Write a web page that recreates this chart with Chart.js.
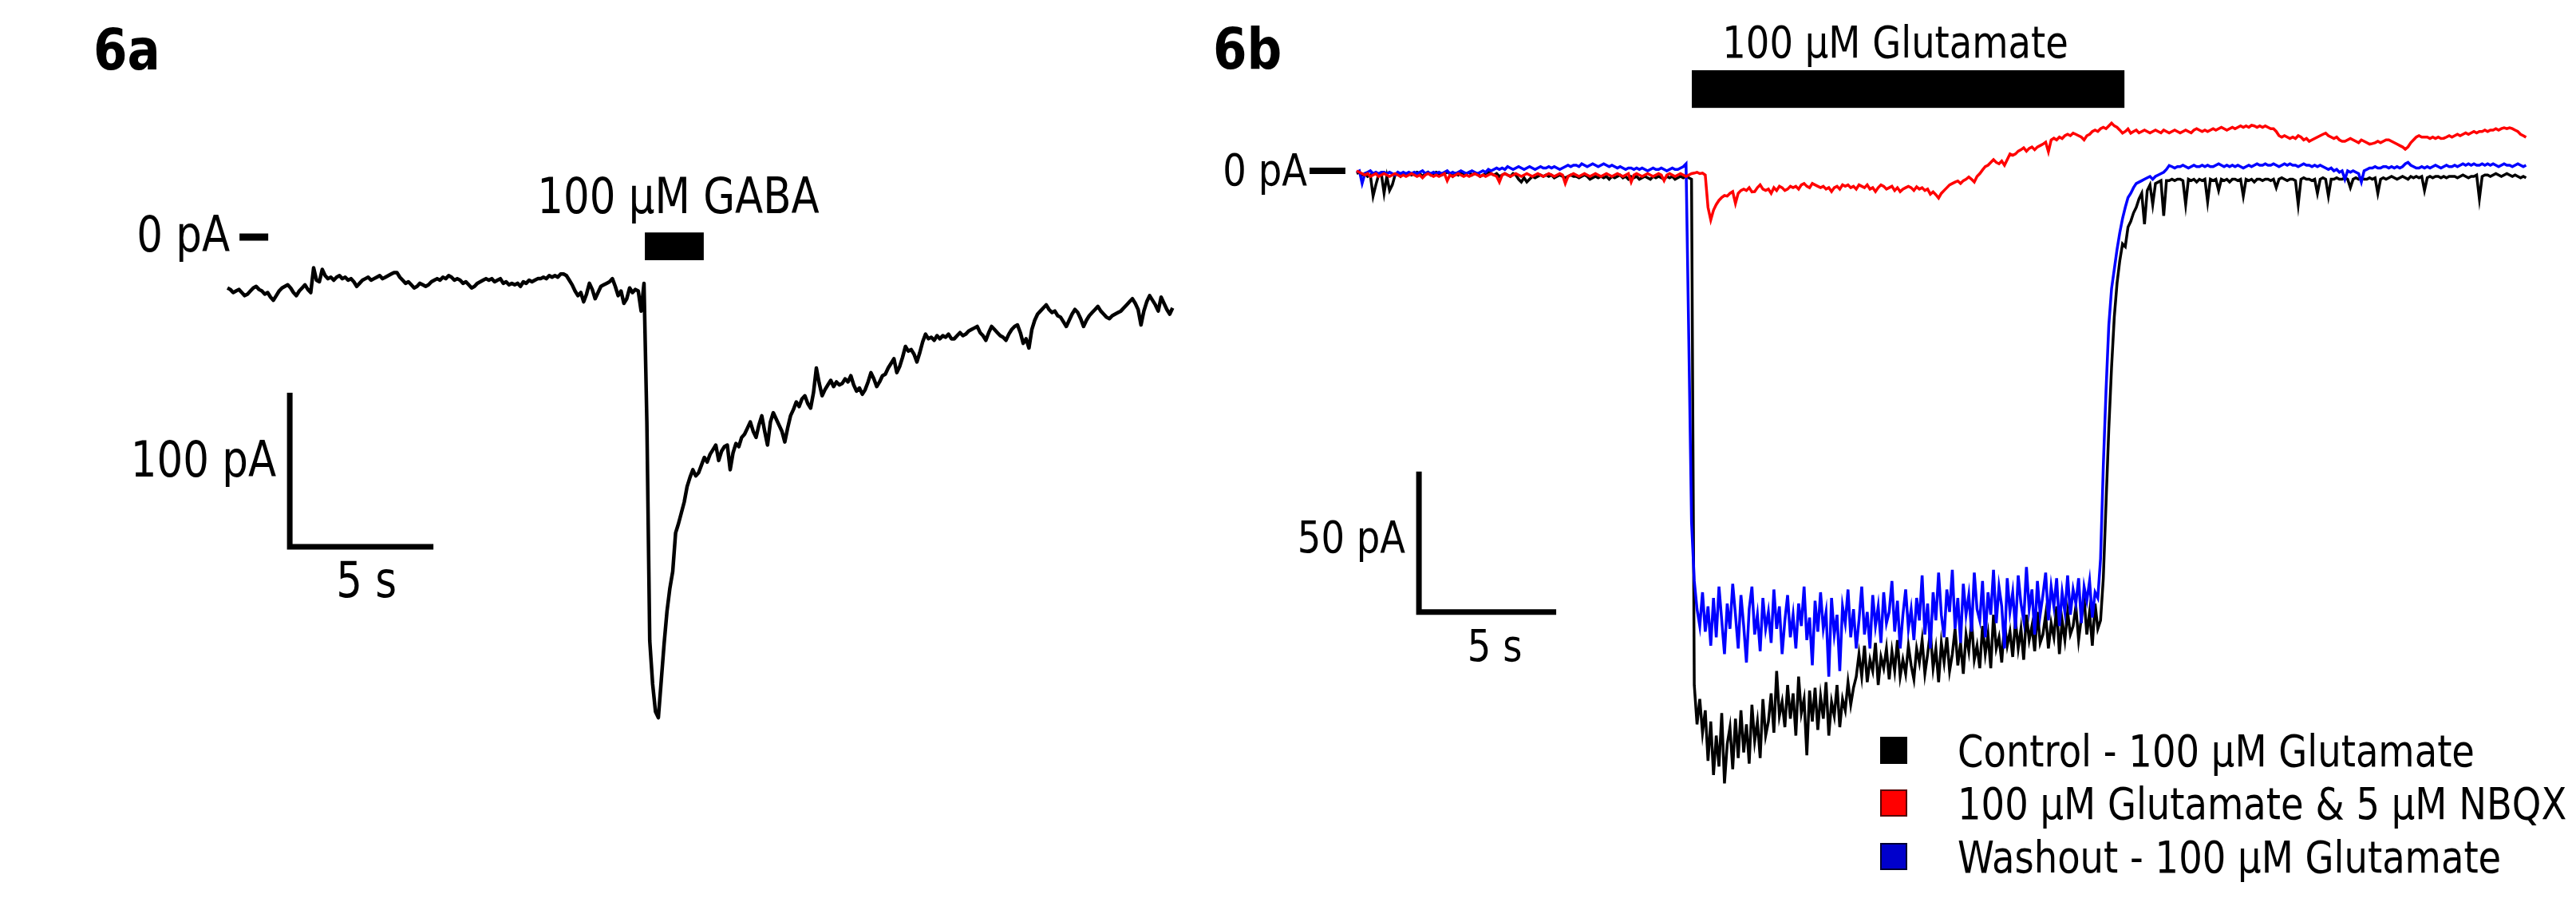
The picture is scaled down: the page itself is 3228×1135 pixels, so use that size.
<!DOCTYPE html>
<html><head><meta charset="utf-8">
<script src="https://cdn.jsdelivr.net/npm/chart.js@4/dist/chart.umd.min.js"></script>
<style>
html,body{margin:0;padding:0;background:#fff;}
#wrap{position:relative;width:3228px;height:1135px;overflow:hidden;background:#fff;}
canvas{position:absolute;top:0;}
#cA{left:0;} #cB{left:1500px;}
</style></head><body>
<div id="wrap"><canvas id="cA" width="1500" height="1135"></canvas><canvas id="cB" width="1728" height="1135"></canvas></div>
<script>
// ---------- DATA ----------
// Panel 6a: 100 µM GABA response, sampled every 0.1 s (pA)
const gabaStep = 0.1;
const gabaCurrent = [
-33,-34,-36,-35,-34,-36,-38,-37,-35,-33,
-32,-34,-35,-37,-36,-39,-41,-38,-35,-33,
-32,-31,-33,-36,-38,-35,-33,-31,-34,-36,
-20,-28,-29,-21,-25,-27,-26,-28,-26,-25,
-27,-26,-28,-27,-29,-32,-30,-28,-27,-26,
-28,-27,-26,-25,-27,-26,-25,-24,-23,-23,
-26,-28,-30,-29,-31,-33,-32,-30,-31,-32,
-31,-29,-28,-27,-28,-26,-27,-25,-26,-28,
-27,-28,-30,-29,-31,-33,-32,-30,-29,-28,
-27,-28,-27,-29,-28,-27,-30,-29,-31,-30,
-31,-30,-32,-29,-30,-28,-29,-28,-27,-27,
-26,-27,-25,-26,-25,-26,-24,-24,-25,-28,
-31,-35,-38,-36,-42,-37,-30,-34,-40,-36,
-32,-31,-30,-29,-27,-32,-38,-35,-43,-40,
-33,-36,-34,-35,-48,-30,-120,-262,-290,-308,
-312,-288,-264,-243,-228,-217,-192,-186,-179,-172,
-162,-156,-151,-155,-153,-148,-143,-146,-141,-138,
-135,-145,-139,-136,-135,-151,-140,-134,-136,-130,
-128,-124,-120,-126,-130,-122,-116,-126,-135,-120,
-114,-118,-122,-126,-133,-124,-116,-112,-107,-110,
-105,-103,-108,-111,-101,-85,-95,-103,-99,-96,
-93,-97,-94,-96,-95,-92,-94,-90,-96,-100,
-98,-102,-99,-94,-88,-92,-97,-94,-90,-89,
-85,-82,-79,-88,-84,-78,-71,-74,-73,-76,
-81,-75,-68,-63,-66,-65,-67,-64,-66,-64,
-65,-63,-66,-66,-64,-62,-64,-63,-61,-60,
-59,-58,-62,-64,-67,-62,-58,-60,-62,-64,
-65,-67,-63,-60,-58,-57,-62,-69,-66,-72,
-60,-54,-50,-48,-46,-44,-47,-49,-48,-51,
-52,-55,-58,-54,-50,-47,-49,-53,-58,-54,
-51,-49,-47,-45,-48,-50,-52,-53,-51,-50,
-49,-48,-46,-44,-42,-40,-43,-47,-57,-48,
-42,-38,-41,-44,-48,-39,-43,-47,-50,-46
];

// Panel 6b: 100 µM Glutamate responses, sampled every 0.1 s (pA)
const glutStep = 0.1;
const controlCurrent = [
-1,-0.5,-1.5,-1,-2,-1.5,-9,-5,-1.5,-1,
-8,-2,-7,-5,-1.5,-1,-2,-1,-1.5,-1,
-1.5,-1,-0.5,-1,-2,-1,-0.5,-1.5,-1,-0.5,
-1,-1.5,-1,-0.5,-1,-2,-1,-1.5,-0.5,-1,
-1,-0.5,-1.5,-1,-1,-2,-1.5,-1,-0.5,-1,
-1.5,-1,-2,-1.5,-1,-1.5,-2,-1,-1.5,-3,
-4,-2.5,-4,-3,-2,-2.5,-2,-1.5,-2,-1.5,
-2,-1.5,-2.5,-2,-1.5,-2,-2.5,-2,-1.5,-2,
-2,-2.5,-2,-1.5,-2,-3,-2.5,-2,-2.5,-2,
-2.5,-2,-3,-2,-2.5,-2,-1.5,-2.5,-2,-3,
-2,-2.5,-2,-3,-2.5,-2,-2.5,-3,-2,-2.5,
-2,-2.5,-3,-2,-2.5,-2,-3,-2.5,-2,-2.5,
-2,-2.5,-3,-183,-197,-188,-200,-192,-210,-196,
-215,-201,-212,-193,-218,-204,-198,-213,-195,-209,
-192,-207,-197,-211,-190,-203,-196,-209,-188,-201,
-196,-186,-200,-178,-194,-189,-198,-183,-195,-186,
-201,-180,-193,-188,-208,-185,-196,-184,-199,-187,
-195,-182,-201,-189,-194,-183,-198,-188,-192,-182,
-190,-184,-180,-172,-180,-169,-182,-174,-178,-168,
-183,-173,-177,-170,-181,-171,-178,-167,-180,-174,
-179,-169,-176,-181,-170,-175,-167,-179,-172,-164,
-177,-170,-182,-168,-175,-166,-178,-172,-163,-176,
-168,-179,-165,-171,-160,-174,-169,-177,-162,-172,
-165,-177,-158,-170,-166,-175,-161,-169,-164,-173,
-160,-170,-163,-174,-158,-167,-162,-171,-157,-168,
-165,-158,-170,-161,-166,-155,-172,-160,-167,-157,
-165,-162,-155,-167,-159,-152,-165,-157,-169,-154,
-163,-160,-145,-118,-92,-70,-52,-40,-32,-26,
-27,-20,-18,-15,-13,-10,-8,-19,-7,-5,
-12,-4.5,-4,-3.5,-16,-3.5,-3.5,-3,-3.5,-3,
-3,-3.5,-12,-3,-3.5,-3,-4,-3,-3.5,-3,
-11,-3,-3.5,-3,-7,-3,-3.5,-3,-4,-3,
-3,-3.5,-3,-9,-3,-3.5,-3,-4,-3,-3,
-3.5,-3,-3,-3.5,-3,-6,-3,-2.5,-3,-3.5,
-3,-3,-3.5,-12,-3,-2.5,-3,-3,-3.5,-3,
-8,-3,-2.5,-3,-9,-3,-3,-2.5,-3,-3,
-2.5,-3,-6,-3,-2.5,-3,-2.5,-3,-3,-2.5,
-3,-2.5,-8,-3,-2.5,-3,-2.5,-2,-2.5,-3,
-2.5,-2,-2.5,-3,-2,-2.5,-2,-2.5,-2,-7,
-2.5,-2,-2.5,-2,-2,-2.5,-2,-2.5,-2,-2,
-2,-2.5,-2,-1.5,-2,-2.5,-2,-2,-1.5,-10,
-2,-1.5,-1.5,-2,-1.5,-1,-1.5,-2,-1.5,-1,
-1.5,-2,-1.5,-2,-2.5,-2,-2.5
];
const nbqxCurrent = [
0,-0.5,-1,-1.5,-1,-2,-1.5,-1,-2,-1.5,
-1,-1.5,-2,-1.5,-1,-1.5,-2,-1.5,-2,-1.5,
-1,-1.5,-2,-1.5,-2.5,-1.5,-1,-1.5,-2,-1.5,
-2,-1.5,-1,-3.5,-1.5,-2,-1.5,-1,-1.5,-2,
-1.5,-2,-1.5,-1,-1.5,-2,-1.5,-2,-1.5,-1,
-1.5,-2,-4,-1.5,-1,-1.5,-2,-1.5,-1,-1.5,
-2,-1.5,-1,-1.5,-2,-1.5,-1,-1.5,-2,-1.5,
-1,-1.5,-2,-1.5,-1,-1.5,-4.5,-2,-1.5,-1,
-1.5,-2,-1.5,-1,-1.5,-2,-1.5,-1,-1.5,-2,
-1.5,-1,-1.5,-2,-1.5,-1,-1.5,-2,-1.5,-1,
-4,-1.5,-1,-1.5,-2,-1.5,-1,-1.5,-2,-1.5,
-1,-1.5,-3.5,-1.5,-1,-1.5,-2,-1.5,-1,-1.5,
-2,-1.5,-1,-0.8,-0.5,-1,-0.8,-1.5,-13,-17.5,
-14,-12,-10.5,-9.5,-8.8,-9,-8,-7.4,-11.6,-8,
-7,-6.5,-7,-6,-7.5,-7.4,-6,-5,-6.5,-7,
-6.5,-8,-6,-7,-5.5,-6,-7,-6.5,-5.5,-6,
-5.5,-6.5,-5,-4.5,-5.5,-6,-4.5,-5,-5.5,-6,
-5.5,-6.5,-6,-7.4,-6,-5.5,-6.5,-5,-5.5,-5,
-6,-5.5,-6.5,-5,-5.5,-6,-5,-6.5,-6,-7.4,
-6,-5,-5.5,-6.5,-6,-5.5,-7,-6,-7.4,-6.5,
-6,-5.5,-6,-7,-5.7,-6.5,-6,-7,-6.5,-8.3,
-7.5,-8.5,-9.7,-8,-7,-6,-5,-4.5,-4,-3.6,
-4.5,-3.5,-3,-2.2,-3,-4,-2,-1,0.3,1.5,
2,3,4,3,2.5,3.5,2,4,6,5.5,
6,7,7.5,8.2,7,8,8.5,7.5,8.5,9,
9.5,10.2,6.8,11,11.6,11,12,11.5,12.5,13,
12.5,13.4,13,12.5,12,11,12.5,13,14,14.5,
14,15,15.5,15,16,17,16,15.5,14.5,13.4,
14,14.9,13.4,14,14.5,13.5,14,14.5,14,13.5,
14,14.5,14,13.5,14.5,14,13.5,14,14.5,14,
13.5,14,14.5,14,13.5,14.5,15,14.5,14,14.5,
14,14.5,15,14.5,15,15.5,15,14.5,15,15.5,
15,15.5,16,15.5,16,15.5,16.2,16,15.5,16,
15.5,16,15.5,15,15,14,12.5,12,12.5,12,
11.5,12,11.5,12.5,12,11,11.5,10.5,11,11.5,
12,12.5,13,13.4,12.5,12,11.5,12,11,10.5,
10.5,11,11.5,11,10.5,10,11,10.5,10,9.5,
9.7,10,10.5,10,10.5,11,11,10.5,10,9.5,
9,8.5,7.7,8.5,10,11,12,12.5,12,12,
12,11.5,12,11.5,12,11.5,11.6,12,12.5,12,
12.5,13,12.5,13,13.5,13,13.5,14,13.5,14,
14,14.5,14,14.5,14.5,15,14.5,15,15.3,15,
15.3,15,14.5,14,13,12.5,11.9
];
const washoutCurrent = [
-0.5,0,-4.5,-1,-0.5,0,-1,-0.5,-1,-0.5,
-0.5,-1,-0.5,-1,-1.5,-0.5,-1,-0.5,-1,-0.5,
-1,-0.5,-1,-0.5,0,-1,-0.5,-1,-0.5,-1,
-0.5,-1,-0.5,0,-1,-0.5,-1,-0.5,0,-0.5,
-1,-0.5,0,-0.5,-1,-0.5,0,-0.5,0.5,0,
0.5,1,0.5,1,0.5,1.5,1,0.5,1,1.5,
1,0.5,1,1.5,1,0.5,1,1.5,1,1,
1.5,1,1.5,1,0.5,1,1.5,2,1.5,2,
2,1.5,2.5,2,1.5,2,2.5,2,1.5,2,
2.5,2,1.5,2,1.5,1,1.5,1,0.5,1,
1,0.5,1,0.5,1,0.5,0,0.5,1,0.5,
0.5,1,0.5,0,0.5,1,0.5,0.5,1,1.5,
2.5,-60,-125,-146,-156,-162,-150,-164,-155,-169,
-152,-166,-148,-160,-172,-154,-163,-147,-158,-170,
-151,-162,-175,-156,-148,-165,-158,-171,-152,-163,
-157,-168,-149,-163,-155,-172,-160,-151,-166,-158,
-170,-154,-162,-148,-167,-159,-176,-153,-164,-150,
-163,-157,-180,-152,-165,-158,-178,-155,-161,-149,
-166,-156,-170,-160,-148,-165,-157,-170,-151,-162,
-155,-168,-150,-161,-157,-146,-164,-153,-170,-158,
-149,-163,-156,-167,-152,-160,-144,-165,-154,-170,
-150,-160,-143,-158,-166,-149,-157,-142,-163,-152,
-168,-147,-158,-151,-164,-143,-156,-160,-146,-166,
-150,-158,-142,-161,-148,-155,-170,-145,-157,-150,
-163,-144,-154,-160,-141,-156,-149,-165,-146,-158,
-151,-143,-160,-148,-155,-145,-162,-150,-157,-144,
-158,-149,-154,-145,-161,-148,-153,-146,-159,-150,
-152,-138,-105,-78,-55,-42,-35,-28,-22,-17,
-13,-9.5,-8,-6,-4.5,-4,-3.5,-3,-2.5,-2,
-3,-2,-1.5,-1,-0.5,0.5,1.9,1.5,1,1.5,
1.5,2,1.5,1,1.5,2,1.5,1.5,2,1.5,
2,1.5,1.5,2,2.5,2,1.5,2,1.5,2,
1.5,2,1.5,1,1.5,2,1.5,2,2.5,2,
2,2.5,2,2,2.5,2,1.5,2,2.5,2,
2.5,2,2,1.5,2,2.5,2,2,1.5,2,
1.5,2,1.5,1,0.5,1,0,0.5,-0.5,0,
-3,0,-0.5,0,-0.5,-1,-4,0,0.5,1,
1,1.5,1,1,1.5,1.5,1,1.5,1,1.5,
1,1.5,2.5,3,2,1.5,1,1,1.5,1,
1.5,1,1.5,2,1.5,1,1.5,2,1.5,1.5,
2,1.5,2,2.5,2,2.5,2,2.5,2,2,
2.5,2,2.5,2,2.5,2,1.5,2,2.5,2,
2,1.5,2,2.5,2,1.5,2
];
const glutLabels = ['Control - 100 µM Glutamate', '100 µM Glutamate & 5 µM NBQX', 'Washout - 100 µM Glutamate'];
const glutColors = ['#000000', '#ff0000', '#0000ff'];

// ---------- helpers ----------
const toPoints = (arr, step) => arr.map((v, i) => ({x: Math.round(i * step * 100) / 100, y: v}));
const FONT = '"DejaVu Sans", "Liberation Sans", sans-serif';
const SX = 0.83;
function drawText(ctx, s, x, y, size, align, bold, sx) {
  ctx.save();
  ctx.translate(x, y);
  ctx.scale(sx, 1);
  ctx.font = (bold ? 'bold ' : '') + size + 'px ' + FONT;
  ctx.fillStyle = '#000';
  ctx.textAlign = align;
  ctx.textBaseline = 'alphabetic';
  ctx.fillText(s, 0, 0);
  ctx.restore();
}

function annotationPlugin(cfg) {
  return {
    id: 'ann_' + cfg.panel,
    afterDatasetsDraw(chart) {
      const ctx = chart.ctx;
      const X = v => chart.scales.x.getPixelForValue(v);
      const Y = v => chart.scales.y.getPixelForValue(v);
      ctx.save();
      ctx.fillStyle = '#000';
      ctx.strokeStyle = '#000';
      // panel label
      drawText(ctx, cfg.panel, cfg.panelPos[0], cfg.panelPos[1], 72, 'left', true, 0.85);
      // zero marker
      const zx0 = X(cfg.zeroTick[0]), zx1 = X(cfg.zeroTick[1]), zy = Y(0);
      ctx.fillRect(zx0, zy - cfg.tickW / 2, zx1 - zx0, cfg.tickW);
      drawText(ctx, '0 pA', zx0 - cfg.zeroGap, zy + 18, cfg.fontSize, 'right', false, SX);
      // stimulus bar
      const s = cfg.stim;
      const bx0 = X(s[0]), bx1 = X(s[1]), by0 = Y(s[2]), by1 = Y(s[3]);
      ctx.fillRect(bx0, by0, bx1 - bx0, by1 - by0);
      drawText(ctx, cfg.stimLabel, (bx0 + bx1) / 2 + cfg.stimLabelDx, by0 - cfg.stimLabelGap, cfg.fontSize, 'center', false, SX);
      // scale bar
      const sb = cfg.scaleBar;
      const cx = X(sb.t), cy = Y(sb.i), topY = Y(sb.i + sb.di), rx = X(sb.t + sb.dt);
      ctx.lineWidth = 7;
      ctx.lineCap = 'butt';
      ctx.lineJoin = 'miter';
      ctx.beginPath();
      ctx.moveTo(cx, topY);
      ctx.lineTo(cx, cy);
      ctx.lineTo(rx, cy);
      ctx.stroke();
      drawText(ctx, sb.di + ' pA', cx - cfg.sbLabelGap, (topY + cy) / 2 + cfg.sbLabelDy, cfg.fontSize, 'right', false, SX);
      drawText(ctx, sb.dt + ' s', (cx + rx) / 2 + cfg.sLabelDx, cy + cfg.sLabelDy, cfg.fontSize, 'center', false, SX);
      // legend
      if (cfg.legend) {
        const L = cfg.legend;
        glutLabels.forEach((lab, k) => {
          const yc = L.y[k];
          ctx.fillStyle = L.fill[k];
          ctx.fillRect(L.x, yc - L.box / 2, L.box, L.box);
          ctx.lineWidth = 2;
          ctx.strokeStyle = L.edge[k];
          ctx.strokeRect(L.x + 1, yc - L.box / 2 + 1, L.box - 2, L.box - 2);
          drawText(ctx, lab, L.textX, yc + 20, cfg.fontSize, 'left', false, SX);
        });
      }
      ctx.restore();
    }
  };
}

function baseOptions(xr, yr) {
  return {
    responsive: false,
    devicePixelRatio: 1,
    animation: false,
    parsing: false,
    normalized: true,
    layout: {padding: 0},
    plugins: {legend: {display: false}, tooltip: {enabled: false}, title: {display: false}},
    elements: {point: {radius: 0}, line: {tension: 0}},
    scales: {
      x: {type: 'linear', min: xr[0], max: xr[1], display: false},
      y: {type: 'linear', min: yr[0], max: yr[1], display: false}
    }
  };
}

// ---------- Panel 6a ----------
new Chart(document.getElementById('cA'), {
  type: 'line',
  data: {datasets: [{
    label: '100 µM GABA', data: toPoints(gabaCurrent, gabaStep),
    borderColor: '#000', borderWidth: 4.5, fill: false, borderJoinStyle: 'round'
  }]},
  options: baseOptions([-7.9167, 33.75], [-434.19, 153.89]),
  plugins: [annotationPlugin({
    panel: '6a', panelPos: [117, 87], fontSize: 62, tickW: 9,
    zeroTick: [0.42, 1.42], zeroGap: 12,
    stim: [14.53, 16.58, 3, -15], stimLabel: '100 µM GABA', stimLabelDx: 5, stimLabelGap: 24,
    scaleBar: {t: 2.17, i: -201, dt: 5, di: 100}, sbLabelGap: 17, sbLabelDy: 9, sLabelDx: 6, sLabelDy: 63
  })]
});

// ---------- Panel 6b ----------
new Chart(document.getElementById('cB'), {
  type: 'line',
  data: {datasets: [
    {label: glutLabels[0], data: toPoints(controlCurrent, glutStep), borderColor: glutColors[0], borderWidth: 3.5, fill: false, order: 3},
    {label: glutLabels[1], data: toPoints(nbqxCurrent, glutStep), borderColor: glutColors[1], borderWidth: 3.5, fill: false, order: 1},
    {label: glutLabels[2], data: toPoints(washoutCurrent, glutStep), borderColor: glutColors[2], borderWidth: 3.5, fill: false, order: 2}
  ]},
  options: baseOptions([-5.814, 44.419], [-261.648, 60.795]),
  plugins: [annotationPlugin({
    panel: '6b', panelPos: [20, 86], fontSize: 56, tickW: 8,
    zeroTick: [-1.715, -0.41], zeroGap: 3,
    stim: [12.21, 27.97, 35.8, 22.4], stimLabel: '100 µM Glutamate', stimLabelDx: -16, stimLabelGap: 16,
    scaleBar: {t: 2.27, i: -157, dt: 5, di: 50}, sbLabelGap: 17, sbLabelDy: 13, sLabelDx: 9, sLabelDy: 61,
    legend: {x: 856, y: [940, 1006, 1073], box: 34, textX: 953,
      fill: ['#000000', '#ff0000', '#0000cc'], edge: ['#000000', '#550000', '#000033']}
  })]
});
</script>
</body></html>
